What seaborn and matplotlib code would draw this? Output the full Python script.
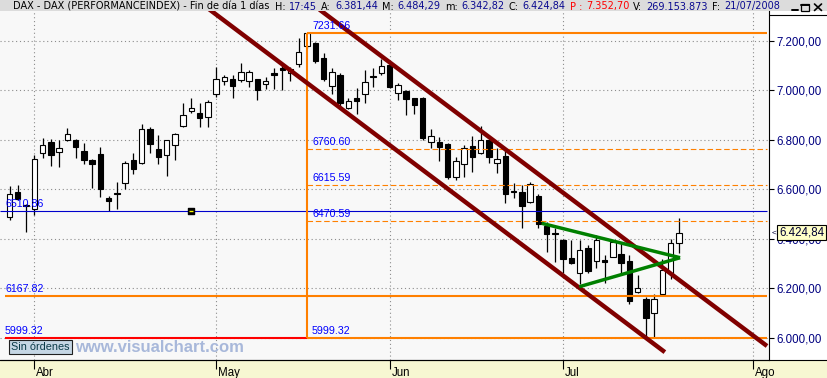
import matplotlib
matplotlib.use("Agg")
import matplotlib.pyplot as plt
import seaborn as sns
import numpy as np
import pandas as pd
from matplotlib.patches import Rectangle
from matplotlib.lines import Line2D

# ----------------------------- data -----------------------------
opens = [6487, 6588, 6536, 6519, 6748, 6789, 6752, 6800, 6799, 6754,
         6717, 6742, 6564, 6583, 6624, 6717, 6705, 6842, 6761, 6740,
         6777, 6856, 6916, 6906, 6890, 6984, 7038, 7044, 7041, 7038,
         7044, 7023, 7066, 7086, 7070, 7104, 7178, 7189, 7128, 7017,
         7061, 6927, 6967, 6984, 7056, 7068, 7101, 6990, 6998, 6967,
         6969, 6790, 6790, 6781, 6648, 6701, 6775, 6745, 6799, 6705,
         6734, 6592, 6588, 6550, 6573, 6453, 6423, 6395, 6321, 6261,
         6362, 6312, 6315, 6328, 6338, 6311, 6184, 6156, 6100, 6176,
         6261, 6381.44]
highs = [6613, 6617, 6541, 6738, 6806, 6803, 6799, 6847, 6802, 6785,
         6721, 6770, 6573, 6629, 6714, 6745, 6863, 6850, 6819, 6800,
         6828, 6947, 6967, 6947, 6960, 7092, 7061, 7061, 7111, 7081,
         7046, 7054, 7090, 7108, 7094, 7209, 7231.66, 7195, 7151, 7090,
         7068, 6967, 7007, 7081, 7088, 7124, 7108, 7027, 7000, 6970,
         6972, 6842, 6812, 6785, 6731, 6779, 6815, 6855, 6800, 6765,
         6765, 6625, 6617, 6628, 6580, 6469, 6443, 6398, 6395, 6395,
         6375, 6416, 6335, 6395, 6382, 6335, 6254, 6167, 6178, 6317,
         6398, 6484.29]
lows = [6476, 6557, 6429, 6496, 6727, 6695, 6691, 6796, 6725, 6702,
        6606, 6570, 6512, 6522, 6600, 6663, 6703, 6748, 6703, 6655,
        6718, 6850, 6906, 6852, 6852, 6973, 7021, 6969, 7034, 7014,
        6960, 7006, 7003, 7000, 7037, 7094, 7169, 7111, 7038, 6984,
        6931, 6923, 6904, 6947, 7014, 7061, 7007, 6960, 6900, 6902,
        6799, 6765, 6715, 6640, 6637, 6648, 6671, 6743, 6705, 6667,
        6546, 6565, 6443, 6546, 6443, 6348, 6308, 6261, 6298, 6218,
        6261, 6281, 6223, 6325, 6254, 6137, 6182, 6005, 5999.32, 6176,
        6237, 6342.82]
closes = [6580, 6560, 6531, 6721, 6777, 6738, 6765, 6822, 6772, 6719,
          6703, 6602, 6554, 6579, 6705, 6681, 6842, 6784, 6729, 6798,
          6822, 6898, 6927, 6886, 6951, 7044, 7052, 7018, 7074, 7072,
          7000, 7036, 7062, 7082, 7085, 7155, 7229, 7119, 7044, 7072,
          6947, 6956, 6957, 7034, 7052, 7097, 7011, 7021, 6964, 6940,
          6806, 6816, 6772, 6651, 6715, 6765, 6729, 6799, 6729, 6721,
          6580, 6588, 6534, 6621, 6459, 6420, 6419, 6317, 6304, 6355,
          6272, 6395, 6305, 6389, 6304, 6150, 6200, 6080, 6156, 6274,
          6382, 6424.84]

month_ticks = [3, 25, 46, 67, 90]          # trading-day index of 1st session
month_labels = ["Abr", "May", "Jun", "Jul", "Ago"]
y_ticks = [6000, 6200, 6400, 6600, 6800, 7000, 7200]

# trend channel (two parallel lines) and triangle, read as (index, price)
chan_low_x = [24.0, 79.3]
chan_low_y = [7330, 5943]
chan_up_x = [37.5, 91.66]
chan_up_y = [7325, 5967.7]
tri_top_x = [64.4, 81.14]
tri_top_y = [6462.7, 6324]
tri_bot_x = [68.95, 81.14]
tri_bot_y = [6207, 6324]

peak_idx = 36
peak_level = 7231.66
fib_levels = [6760.60, 6615.59, 6470.59]
ref_level = 6510.86
support_levels = [6167.82, 5999.32]
order_marker_idx = [22]
order_marker_val = [6510.86]

header_items = [("H:", "17:45"), ("A:", "6.381,44"), ("M:", "6.484,29"),
                ("m:", "6.342,82"), ("C:", "6.424,84"), ("P :", "7.352,70"),
                ("V:", "269.153.873"), ("F:", "21/07/2008")]
header_title = "DAX - DAX (PERFORMANCEINDEX) - Fin de día 1 días"

# ----------------------------- style -----------------------------
sns.set_theme(style="white")
plt.rcParams['font.family'] = ['Liberation Sans', 'DejaVu Sans']

W, H = 828, 378
ORANGE = "#FF8000"
MAROON = "#800000"
GREEN = "#008000"
LBLUE = "#0000FF"
NAVY = "#000080"


def es_fmt(v):
    s = f"{v:,.2f}"
    return s.replace(",", "#").replace(".", ",").replace("#", ".")


def fx(px):
    return px / W


def fy(py):
    return 1 - py / H


fig = plt.figure(figsize=(W / 100, H / 100), dpi=100, facecolor="#F7F7D2")
ax = fig.add_axes([0, 18 / H, 769 / W, 349 / H])
ax.set_facecolor("#F8F8F8")

df = pd.DataFrame({"idx": np.arange(len(opens)), "open": opens, "high": highs,
                   "low": lows, "close": closes})
df["up"] = df["close"] >= df["open"]
df["bottom"] = df[["open", "close"]].min(axis=1)
df["height"] = (df["close"] - df["open"]).abs().clip(lower=6)

# grid
ax.set_xlim(-1.15, 91.9)
ax.set_ylim(5911.3, 7319.1)
ax.set_xticks(month_ticks)
ax.set_yticks(y_ticks)
ax.grid(True, color="#8C8C8C", linestyle=(0, (1, 2.5)), linewidth=0.8)
ax.set_axisbelow(True)

# candles
ax.vlines(df["idx"], df["low"], df["high"], color="black", lw=0.9, zorder=3)
ax.bar(df["idx"], df["height"], bottom=df["bottom"], width=0.66,
       color=np.where(df["up"], "white", "black"), edgecolor="black",
       linewidth=0.8, zorder=4)

# horizontal levels
xr = 91.6
xl = -0.55
ax.hlines(peak_level, peak_idx, xr, color=ORANGE, lw=1.5, zorder=5)
for lv in fib_levels:
    ax.hlines(lv, peak_idx, xr, color=ORANGE, lw=0.8, linestyles=(0, (5, 2.5)), zorder=5)
ax.hlines(ref_level, -1.15, xr, color="#0000CC", lw=0.8, zorder=5)
ax.hlines(support_levels[0], xl, xr, color=ORANGE, lw=1.5, zorder=5)
ax.hlines(support_levels[1], xl, peak_idx, color="#FF0000", lw=1.5, zorder=5)
ax.hlines(support_levels[1], peak_idx, xr, color=ORANGE, lw=1.5, zorder=5)
ax.vlines(peak_idx, support_levels[1], peak_level, color=ORANGE, lw=1.5, zorder=5)

# channel and triangle lines
for xs, ys, col, w in [(chan_low_x, chan_low_y, MAROON, 3.2),
                       (chan_up_x, chan_up_y, MAROON, 3.2),
                       (tri_top_x, tri_top_y, GREEN, 2.5),
                       (tri_bot_x, tri_bot_y, GREEN, 2.5)]:
    sns.lineplot(x=xs, y=ys, ax=ax, color=col, lw=w, zorder=6,
                 solid_capstyle="butt")

# order marker
ax.scatter(order_marker_idx, order_marker_val, marker="s", s=13, c="black", zorder=7)
ax.scatter(order_marker_idx, order_marker_val, marker="_", s=8, c="#FFFF00",
           linewidths=1.0, zorder=8)

# level labels
lab_kw = dict(textcoords="offset pixels", xytext=(5, 4), color=LBLUE,
              fontsize=7.7, va="baseline", ha="left", zorder=9)
for lv in [peak_level] + fib_levels + [support_levels[1]]:
    ax.annotate(f"{lv:.2f}", xy=(peak_idx, lv), **lab_kw)
for lv in [ref_level] + support_levels:
    ax.annotate(f"{lv:.2f}", xy=(0, lv), xycoords=("axes fraction", "data"), **lab_kw)

# axes / ticks
for s in ["top", "left"]:
    ax.spines[s].set_visible(False)
for s in ["right", "bottom"]:
    ax.spines[s].set_color("black")
    ax.spines[s].set_linewidth(0.8)
ax.yaxis.tick_right()
ax.set_yticklabels([es_fmt(v) for v in y_ticks])
ax.tick_params(axis="y", direction="out", length=3.3, width=0.8, color="black",
               labelcolor=NAVY, labelsize=8.3, pad=1.8, right=True, left=False)
ax.tick_params(axis="x", direction="out", length=6.5, width=0.8, color="black",
               bottom=True, labelbottom=False)
for t, lab in zip(month_ticks, month_labels):
    ax.annotate(lab, xy=(t, 0), xycoords=("data", "axes fraction"), xytext=(2, -16),
                textcoords="offset pixels", ha="left", va="baseline", fontsize=8.3,
                color="black", annotation_clip=False)

# last price tag (drawn over the tick label, as in the terminal)
last_close = closes[-1]
ax.annotate(es_fmt(last_close), xy=(1, last_close), xycoords=("axes fraction", "data"),
            xytext=(10, 0), textcoords="offset pixels", ha="left", va="center",
            fontsize=8.3, color="#000033", annotation_clip=False, zorder=10,
            bbox=dict(boxstyle="square,pad=0.15", fc="#FFFFC8", ec="black", lw=0.8))
ax.annotate("<", xy=(1, last_close), xycoords=("axes fraction", "data"),
            xytext=(3, 0), textcoords="offset pixels", ha="left", va="center",
            fontsize=6, color="#000033", annotation_clip=False)

# figure furniture: header, right panel
fig.patches.append(Rectangle((0, fy(11)), 1, 11 / H, transform=fig.transFigure,
                             fc="#DCDCDC", ec="none", zorder=-2))
fig.patches.append(Rectangle((fx(769), fy(360)), 1 - fx(769), 349 / H,
                             transform=fig.transFigure, fc="white", ec="none", zorder=-2))
fig.lines.append(Line2D([fx(769), 1], [fy(15), fy(15)], transform=fig.transFigure,
                        color="black", lw=0.8))
fig.lines.append(Line2D([0, 1], [fy(360), fy(360)], transform=fig.transFigure,
                        color="black", lw=0.8))

# window buttons
fig.lines.append(Line2D([fx(792), fx(798)], [fy(10), fy(10)], transform=fig.transFigure,
                        color="black", lw=1.4))
fig.patches.append(Rectangle((fx(801), fy(10.5)), fx(8.5), 6 / H, transform=fig.transFigure,
                             fc="none", ec="black", lw=0.9))
fig.lines.append(Line2D([fx(801), fx(809.5)], [fy(4.5), fy(4.5)], transform=fig.transFigure,
                        color="black", lw=1.4))
fig.lines.append(Line2D([fx(814.5), fx(821.5)], [fy(4), fy(10.5)], transform=fig.transFigure,
                        color="black", lw=1.2))
fig.lines.append(Line2D([fx(814.5), fx(821.5)], [fy(10.5), fy(4)], transform=fig.transFigure,
                        color="black", lw=1.2))

# header text laid out left to right, sized to span the same width as the terminal's
renderer = fig.canvas.get_renderer()
hdr_family = ["DejaVu Sans"]
pieces = [(header_title, "black")]
for lab, val in header_items:
    red = lab.startswith("P")
    pieces.append((lab, "#FF0000" if red else "black"))
    pieces.append((val, "#FF0000" if red else "#0A0A90"))
gaps = [5] + [4] * (len(pieces) - 2)
x0, x1 = 13.3, 780.0


def widths(fs):
    out = []
    for txt, _ in pieces:
        tt = fig.text(0, 0, txt, fontsize=fs, family=hdr_family)
        out.append(tt.get_window_extent(renderer).width)
        tt.remove()
    return out


base = widths(7.0)
hdr_fs = 7.0 * (x1 - x0 - sum(gaps)) / sum(base)
ws = widths(hdr_fs)
x = x0
for i, (txt, col) in enumerate(pieces):
    fig.text(fx(x), fy(9.5), txt, color=col, fontsize=hdr_fs, va="baseline",
             family=hdr_family)
    x += ws[i] + (gaps[i] if i < len(gaps) else 0)

# footer items
fig.text(fx(40.5), fy(347), "Sin órdenes", ha="center", va="center", fontsize=7.8,
         color="#0A3A48",
         bbox=dict(boxstyle="square,pad=0.2", fc="#C5D6E4", ec="#202020", lw=0.8))
fig.text(fx(75), fy(351.5), "www.visualchart.com", ha="left", va="baseline",
         fontsize=12, fontweight="bold", color="#A8B8DA")

fig.savefig("out.png", dpi=100, facecolor=fig.get_facecolor())
